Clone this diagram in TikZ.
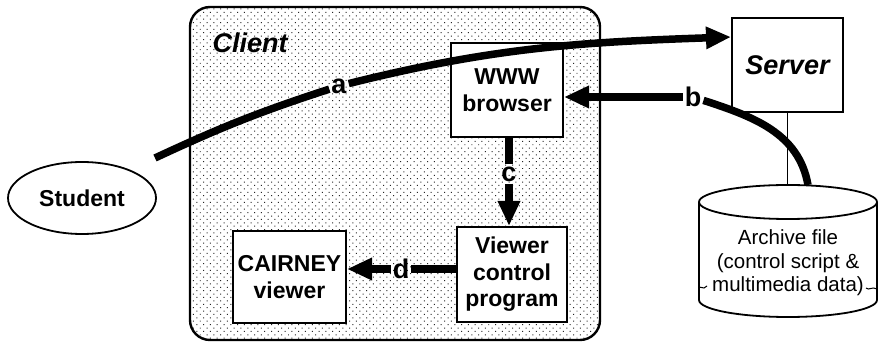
\documentclass[tikz,border=0pt]{standalone}
\usepackage{fontspec}
\setmainfont{Liberation Sans}
\usetikzlibrary{arrows.meta,patterns.meta,shapes.geometric,calc}

\tikzset{
  box/.style={draw, line width=2pt, fill=white, align=center,
    font=\fontsize{23}{26.5}\selectfont\bfseries, inner sep=0pt},
  flow/.style={line width=7.5pt},
  tip/.style={-{Triangle[length=25pt,width=21pt]}},
  lbl/.style={font=\fontsize{27}{27}\selectfont\bfseries, inner sep=2pt},
  ital/.style={font=\fontsize{27}{27}\selectfont\bfseries\itshape},
  thin/.style={line width=1.8pt},
}

\begin{document}
\begin{tikzpicture}[x=1pt,y=1pt]
\useasboundingbox (0,0) rectangle (878,345);

% client area: white ground, dot screen, rounded frame
\fill[white, rounded corners=20pt] (190,5) rectangle (600,338);
\fill[rounded corners=20pt, pattern={Dots[distance=4.8pt,radius=0.7pt,angle=45]},
      pattern color=black!85] (190,5) rectangle (600,338);
\draw[line width=2.4pt, rounded corners=20pt] (190,5) rectangle (600,338);
\node[ital, anchor=base west] (clientlbl) at (209,292) {Client};

% components
\node[box, minimum width=112pt, minimum height=94pt] (www) at (507,255) {WWW\\browser};
\node[box, minimum width=110pt, minimum height=95pt] (vcp) at (512,70.5) {Viewer\\control\\program};
\node[box, minimum width=113pt, minimum height=92pt] (cv) at (289.5,68) {CAIRNEY\\viewer};
\node[box, ital, minimum width=111pt, minimum height=94pt] (srv) at (787.5,280) {Server};
\node[draw, thin, ellipse, minimum width=148pt, minimum height=72pt, inner sep=0pt,
      font=\fontsize{23}{26}\selectfont\bfseries] (stu) at (82,147) {Student};

% archive cylinder
\coordinate (cyltop) at (788,160);
\draw[thin, fill=white] (699,143) -- (699,45)
  arc[start angle=180, end angle=360, x radius=89, y radius=17] -- (877,143)
  arc[start angle=0, end angle=180, x radius=89, y radius=17] -- cycle;
\draw[thin] (699,143) arc[start angle=180, end angle=360, x radius=89, y radius=17];
\node[align=center, font=\fontsize{20.5}{23.5}\selectfont, inner sep=0pt] (arch) at (788,82)
  {Archive file\\(control script \&\\multimedia data)};
\draw[line width=1pt] (699,58) -- (704,57) -- (707,59);
\draw[line width=1pt] (866,57) .. controls (869,54) and (872,59) .. (877,56);

% server to archive
\draw[line width=1.5pt] (srv.south) -- (srv.south |- cyltop);

% flow a: student to server
\coordinate (astart) at (155,187);
\coordinate (atip) at ($(srv.north west)+(0,-20)$);
\node[lbl] (la) at (339,259) {a};
\draw[flow] (astart) to[out=25, in=198] (la);
\draw[flow, tip] (la) to[out=14, in=182] (atip);

% flow b: archive to browser
\coordinate (bstart) at (808,160);
\node[lbl] (lb) at (693,248) {b};
\draw[flow] (bstart) to[out=100, in=-18] (lb);
\draw[flow, tip] (lb) -- (lb -| www.east);

% flow c: browser to viewer control program
\node[lbl] (lc) at (509,171) {c};
\draw[flow] (lc |- www.south) -- (lc);
\draw[flow, tip] (lc) -- (lc |- vcp.north);

% flow d: viewer control program to CAIRNEY viewer
\node[lbl] (ld) at (401,76) {d};
\draw[flow] (ld -| vcp.west) -- (ld);
\draw[flow, tip] (ld) -- (ld -| cv.east);
\end{tikzpicture}
\end{document}
